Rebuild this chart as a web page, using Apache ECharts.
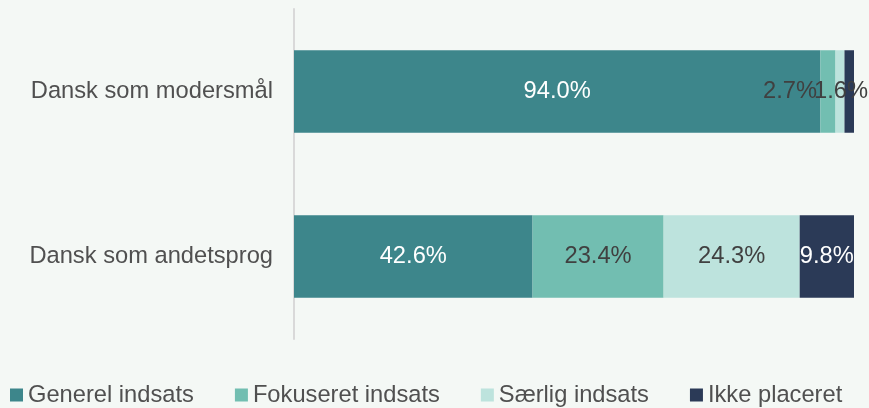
<!DOCTYPE html>
<html>
<head>
<meta charset="utf-8">
<script src="https://cdn.jsdelivr.net/npm/echarts@6/dist/echarts.min.js"></script>
<style>
  html, body { margin: 0; padding: 0; background: #f4f8f5; }
  #chart { width: 869px; height: 408px; }
</style>
</head>
<body>
<div id="chart"></div>
<script>
var categories = ['Dansk som modersmål', 'Dansk som andetsprog']
var seriesNames = ['Generel indsats', 'Fokuseret indsats', 'Særlig indsats', 'Ikke placeret']
var generel = [94.0, 42.6]
var fokuseret = [2.7, 23.4]
var saerlig = [1.6, 24.3]
var ikkePlaceret = [1.7, 9.8]

var colors = ['#3d868b', '#72beb1', '#bde3dd', '#2b3a57']
var labelColors = ['#ffffff', '#404040', '#404040', '#ffffff']
var fontFamily = 'Liberation Sans, Arial, sans-serif'
var fontSize = 23.7

// small labels on the top bar overlap, nudge / hide like the original
function itemLabel(s, i) {
  if (i === 0 && s === 1) return { offset: [-38, 0], color: '#404040' }
  if (i === 0 && s === 2) return { offset: [1, 0] }
  if (i === 0 && s === 3) return { show: false }
  return {}
}

var values = [generel, fokuseret, saerlig, ikkePlaceret]
var chart = echarts.init(document.getElementById('chart'))

var series = values.map(function(vals, s) {
  return {
    name: seriesNames[s],
    type: 'bar',
    stack: 'total',
    barWidth: '50%',
    itemStyle: { color: colors[s] },
    label: {
      show: true,
      position: 'inside',
      color: labelColors[s],
      fontSize: fontSize,
      fontFamily: fontFamily,
      formatter: function(p) { return p.value.toFixed(1) + '%' }
    },
    data: vals.map(function(v, i) {
      return { value: v, label: itemLabel(s, i) }
    })
  }
})

var option = {
  backgroundColor: '#f4f8f5',
  animation: false,
  legend: {
    left: 5,
    top: 378,
    itemWidth: 13,
    itemHeight: 13,
    itemGap: 41,
    icon: 'rect',
    textStyle: { fontSize: fontSize, color: '#505050', fontFamily: fontFamily },
    data: seriesNames
  },
  grid: {
    left: 294,
    right: 15,
    top: 9,
    height: 330
  },
  xAxis: {
    type: 'value',
    min: 0,
    max: 100,
    show: false
  },
  yAxis: {
    type: 'category',
    inverse: true,
    data: categories,
    axisLine: { show: true, lineStyle: { color: '#d9d9d9', width: 2 } },
    axisTick: { show: false },
    axisLabel: {
      fontSize: fontSize,
      color: '#505050',
      fontFamily: fontFamily,
      margin: 21
    }
  },
  series: series
}

chart.setOption(option)
</script>
</body>
</html>
